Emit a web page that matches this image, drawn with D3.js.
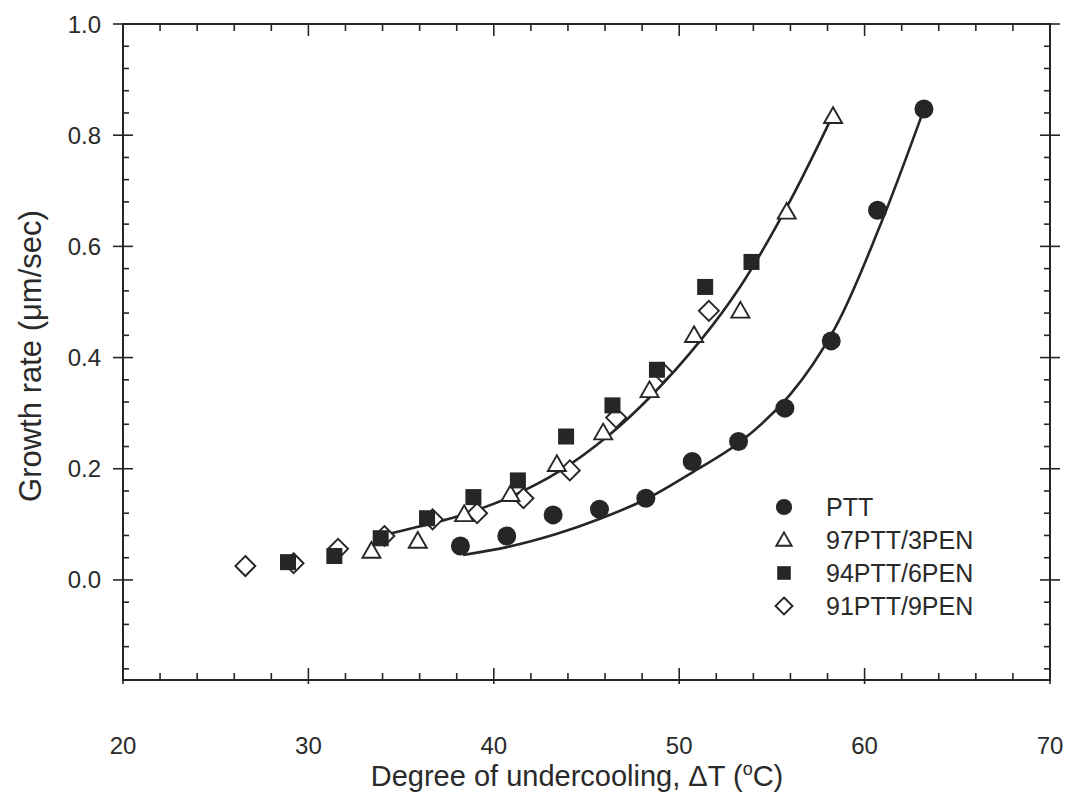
<!DOCTYPE html>
<html>
<head>
<meta charset="utf-8">
<script src="https://cdn.jsdelivr.net/npm/d3@7"></script>
<style>
    body { margin: 0; background: #fff; }
    text { font-family: "Liberation Sans", Arial, sans-serif; fill: #2a2a2a; }
</style>
</head>
<body>
<div id="graph"></div>
<script>
/*************************************** DATA *********************************************/

var seriesNames = ["PTT", "97PTT/3PEN", "94PTT/6PEN", "91PTT/9PEN"];

var pttData = [
    [38.2, 0.061], [40.7, 0.079], [43.2, 0.117], [45.7, 0.127], [48.2, 0.147],
    [50.7, 0.213], [53.2, 0.249], [55.7, 0.309], [58.2, 0.430], [60.7, 0.665], [63.2, 0.847]
];

var pen3Data = [
    [33.4, 0.052], [35.9, 0.070], [38.4, 0.118], [40.9, 0.154], [43.4, 0.208],
    [45.9, 0.265], [48.4, 0.341], [50.8, 0.440], [53.3, 0.484], [55.8, 0.662], [58.3, 0.834]
];

var pen6Data = [
    [28.9, 0.032], [31.4, 0.043], [33.9, 0.075], [36.4, 0.111], [38.9, 0.149],
    [41.3, 0.179], [43.9, 0.258], [46.4, 0.314], [48.8, 0.378], [51.4, 0.527], [53.9, 0.572]
];

var pen9Data = [
    [26.6, 0.025], [29.2, 0.030], [31.6, 0.056], [34.1, 0.079], [36.7, 0.109],
    [39.1, 0.120], [41.6, 0.147], [44.1, 0.197], [46.6, 0.292], [49.1, 0.373], [51.6, 0.484]
];

// fitted curves
var pttFit = [
    [38.34, 0.045], [40.71, 0.059], [43.41, 0.083], [45.73, 0.110], [48.26, 0.146],
    [50.74, 0.194], [53.28, 0.248], [55.97, 0.333], [58.40, 0.453], [60.83, 0.637], [63.15, 0.842]
];

var blendFit = [
    [33.54, 0.077], [35.48, 0.092], [38.18, 0.116], [40.87, 0.149], [43.57, 0.196],
    [46.27, 0.262], [48.43, 0.329], [51.13, 0.430], [53.28, 0.527], [55.81, 0.671], [58.30, 0.837]
];

var xTicks = [20, 30, 40, 50, 60, 70];
var yTicks = [0.0, 0.2, 0.4, 0.6, 0.8, 1.0];

/*************************************** GRAPH *********************************************/

var W = 1066, H = 796;
var plotLeft = 123, plotRight = 1050, plotTop = 24, plotBottom = 680;
var ink = "#262626";

var x = d3.scaleLinear().domain([20, 70]).range([plotLeft, plotRight]);
var y = d3.scaleLinear().domain([-0.18, 1.0]).range([plotBottom, plotTop]);

var svg = d3.select("#graph").append("svg")
    .attr("width", W)
    .attr("height", H);

// frame
svg.append("rect")
    .attr("x", plotLeft).attr("y", plotTop)
    .attr("width", plotRight - plotLeft).attr("height", plotBottom - plotTop)
    .attr("fill", "none").attr("stroke", ink).attr("stroke-width", 2);

var xMinor = d3.range(20, 70.01, 2);
var yMinor = d3.range(-0.16, 1.001, 0.04);

function drawTicks() {
    var g = svg.append("g").attr("stroke", ink).attr("stroke-width", 1.6);
    xMinor.forEach(function(v) {
        var major = Math.abs(v % 10) < 1e-6;
        var len = major ? 12 : 7;
        g.append("line").attr("x1", x(v)).attr("x2", x(v)).attr("y1", plotBottom).attr("y2", plotBottom - len);
        g.append("line").attr("x1", x(v)).attr("x2", x(v)).attr("y1", plotTop).attr("y2", plotTop + len);
        if (major) {
            g.append("line").attr("x1", x(v)).attr("x2", x(v)).attr("y1", plotBottom).attr("y2", plotBottom + 4);
        }
    });
    yMinor.forEach(function(v) {
        var major = Math.abs(Math.round(v * 100) % 20) < 1e-6;
        if (major) {
            g.append("line").attr("x1", plotLeft - 10).attr("x2", plotLeft + 10).attr("y1", y(v)).attr("y2", y(v));
            g.append("line").attr("x1", plotRight - 10).attr("x2", plotRight + 10).attr("y1", y(v)).attr("y2", y(v));
        } else {
            g.append("line").attr("x1", plotLeft).attr("x2", plotLeft + 6).attr("y1", y(v)).attr("y2", y(v));
            g.append("line").attr("x1", plotRight).attr("x2", plotRight - 6).attr("y1", y(v)).attr("y2", y(v));
        }
    });
}
drawTicks();

// tick labels
svg.selectAll(".xlab").data(xTicks).enter().append("text")
    .attr("x", function(d) { return x(d); })
    .attr("y", 754)
    .attr("text-anchor", "middle")
    .style("font-size", "24px")
    .text(function(d) { return d; });

svg.selectAll(".ylab").data(yTicks).enter().append("text")
    .attr("x", 101)
    .attr("y", function(d) { return y(d) + 8.5; })
    .attr("text-anchor", "end")
    .style("font-size", "24px")
    .text(function(d) { return d3.format(".1f")(d); });

// axis titles
var xt = svg.append("text")
    .attr("x", 577).attr("y", 786)
    .attr("text-anchor", "middle")
    .style("font-size", "29px");
xt.append("tspan").text("Degree of undercooling, \u0394T (");
xt.append("tspan").attr("dy", -11).style("font-size", "18px").text("o");
xt.append("tspan").attr("dy", 11).text("C)");

svg.append("text")
    .attr("transform", "translate(41," + ((plotTop + plotBottom) / 2 + 4) + ") rotate(-90)")
    .attr("text-anchor", "middle")
    .style("font-size", "31px")
    .text("Growth rate (\u03bcm/sec)");

// fitted lines
var line = d3.line()
    .x(function(d) { return x(d[0]); })
    .y(function(d) { return y(d[1]); })
    .curve(d3.curveCatmullRom.alpha(0.5));

[pttFit, blendFit].forEach(function(f) {
    svg.append("path")
        .datum(f)
        .attr("d", line)
        .attr("fill", "none")
        .attr("stroke", ink)
        .attr("stroke-width", 2.6);
});

// markers
function marker(g, kind, cx, cy, k) {
    k = k || 1;
    if (kind === 0) {
        g.append("circle").attr("cx", cx).attr("cy", cy).attr("r", 9.5 * k).attr("fill", ink);
    } else if (kind === 1) {
        var s = 9 * k;
        g.append("path")
            .attr("d", "M" + cx + "," + (cy - s) + "L" + (cx + s) + "," + (cy + s * 0.75) + "L" + (cx - s) + "," + (cy + s * 0.75) + "Z")
            .attr("fill", "#fff").attr("stroke", ink).attr("stroke-width", 1.9);
    } else if (kind === 2) {
        var h = 8 * k;
        g.append("rect").attr("x", cx - h).attr("y", cy - h).attr("width", 2 * h).attr("height", 2 * h).attr("fill", ink);
    } else {
        var r = 10 * k;
        g.append("path")
            .attr("d", "M" + cx + "," + (cy - r) + "L" + (cx + r) + "," + cy + "L" + cx + "," + (cy + r) + "L" + (cx - r) + "," + cy + "Z")
            .attr("fill", "#fff").attr("stroke", ink).attr("stroke-width", 1.9);
    }
}

var allSeries = [pttData, pen3Data, pen6Data, pen9Data];
// draw order: diamonds under squares like the original
[3, 1, 2, 0].forEach(function(k) {
    var g = svg.append("g");
    allSeries[k].forEach(function(d) {
        marker(g, k, x(d[0]), y(d[1]));
    });
});

// legend
var leg = svg.append("g");
seriesNames.forEach(function(name, i) {
    var ly = 507 + i * 33;
    marker(leg, i, 784, ly, 0.85);
    leg.append("text")
        .attr("x", 826).attr("y", ly + 9)
        .style("font-size", "25px")
        .text(name);
});
</script>
</body>
</html>
